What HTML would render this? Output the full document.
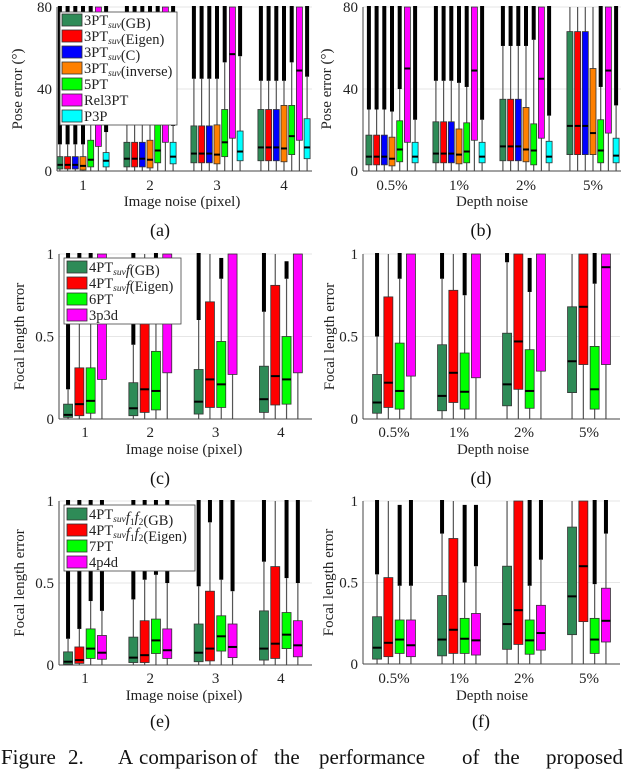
<!DOCTYPE html>
<html><head><meta charset="utf-8"><style>
html,body{margin:0;padding:0;background:#fff;}
svg, svg text{font-family:"Liberation Serif","DejaVu Serif",serif;}
</style></head><body>
<svg id="fig" width="640" height="769" viewBox="0 0 640 769" xmlns="http://www.w3.org/2000/svg" font-family="Liberation Serif, serif">
<g id="layer-grid"></g>
<g id="layer-data"></g>
<g id="layer-axes"></g>
<g id="layer-legend"></g>
<g font-size="21" fill="#111" font-family="Liberation Serif, serif">
<text x="1" y="764">Figure</text><text x="68" y="764">2.</text><text x="118" y="764">A</text><text x="139" y="764">comparison</text><text x="240" y="764">of</text><text x="274" y="764">the</text><text x="319" y="764">performance</text><text x="462" y="764">of</text><text x="494" y="764">the</text><text x="546" y="764">proposed</text>
</g>
</svg>
<script>
// ---------- Panel (a) data: pose error vs image noise ----------
const aCategories = ["1","2","3","4"];
const aSeries = ["GB","Eigen","C","inverse","5PT","Rel3PT","P3P"];
const aYTicks = [0,40,80];
const aQ1 = [[1,2,4,5],[1,2,4,5],[1,2,4,5],[0.5,1.5,3.5,4.5],[2,4,7,8],[12,14,16,15],[2,3.5,5,6]];
const aMed = [[3,6,8.5,11.5],[3,6,8.5,11.5],[3,6,8.5,11.5],[2.5,5.5,8,11],[5.5,10,14,17],[90,90,57,49],[5,7,9.5,11.5]];
const aQ3 = [[7,14,22,30],[7,14,22,30],[7,14,22,30],[7,15,22.5,32],[15,23,30,32],[95,95,95,95],[9,14,19.5,25.5]];
const aHi = [[13,27,45,44],[13,27,45,44],[13,27,45,44],[13,27,45,44],[30,40,53,53],[80,80,80,80],[19,22,56,46]];
const aOut = [[80,80,80,80],[80,80,80,80],[80,80,80,80],[80,80,80,80],[80,80,80,80],[80,80,80,80],[80,80,80,80]];

// ---------- Panel (b) data: pose error vs depth noise ----------
const bCategories = ["0.5%","1%","2%","5%"];
const bYTicks = [0,40,80];
const bQ1 = [[3,4,5,8],[3,4,5,8],[3,4,5,8],[2.5,3.5,4.5,8],[4.5,4,3,4],[14,15,16,18.5],[4,4,4,4]];
const bMed = [[7,8.5,12,22],[7,8.5,12,22],[7,8.5,12,22],[6,8,10.5,18.5],[10.5,9.5,10,10],[50,49,45,49],[7,7,7,7.5]];
const bQ3 = [[17.5,24,35,68],[17.5,24,35,68],[17.5,24,35,68],[16.5,20.5,31,50],[24.5,23.5,23,25],[95,95,95,95],[14,14,14.5,16]];
const bHi = [[30,44,61,80],[30,44,61,80],[30,44,61,80],[29,43,61,80],[40,41,64,41],[80,80,80,80],[25,25,27,32]];
const bOut = [[80,80,80,80],[80,80,80,80],[80,80,80,80],[80,80,80,80],[80,80,80,80],[80,80,80,80],[80,80,80,80]];

// ---------- Panel (c) data ----------
const cCategories = ["1","2","3","4"];
const cYTicks = [0,0.5,1];
const cQ1 = [[0.01,0.02,0.03,0.04],[0.02,0.04,0.07,0.085],[0.035,0.055,0.07,0.09],[0.24,0.28,0.27,0.28]];
const cMed = [[0.025,0.065,0.105,0.12],[0.09,0.18,0.24,0.26],[0.11,0.17,0.21,0.24],[1,1,1,1]];
const cQ3 = [[0.09,0.22,0.3,0.32],[0.31,0.65,0.71,0.81],[0.31,0.41,0.47,0.5],[1,1,1,1]];
const cHi = [[0.18,0.45,0.6,0.65],[0.62,1,1,1],[0.6,0.7,0.85,0.85],[1,1,1,1]];
const cOut = [[1,1,1,1],[1,1,1,1],[1,1,0.97,0.95],[1,1,1,1]];

// ---------- Panel (d) data ----------
const dCategories = ["0.5%","1%","2%","5%"];
const dYTicks = [0,0.5,1];
const dQ1 = [[0.035,0.05,0.08,0.16],[0.07,0.1,0.18,0.33],[0.06,0.06,0.065,0.06],[0.26,0.25,0.29,0.33]];
const dMed = [[0.1,0.14,0.21,0.35],[0.22,0.28,0.47,0.68],[0.17,0.165,0.17,0.18],[1,1,1,0.92]];
const dQ3 = [[0.27,0.45,0.52,0.68],[0.74,0.78,1,1],[0.46,0.4,0.42,0.44],[1,1,1,1]];
const dHi = [[0.5,0.85,0.95,1],[1,1,1,1],[0.85,0.75,0.77,0.82],[1,1,1,1]];
const dOut = [[1,1,1,1],[1,1,1,1],[1,1,0.97,1],[1,1,1,1]];

// ---------- Panel (e) data ----------
const eCategories = ["1","2","3","4"];
const eYTicks = [0,0.5,1];
const eQ1 = [[0.005,0.015,0.02,0.03],[0.01,0.015,0.025,0.04],[0.04,0.07,0.085,0.1],[0.035,0.04,0.045,0.05]];
const eMed = [[0.02,0.045,0.075,0.1],[0.03,0.06,0.1,0.13],[0.1,0.15,0.175,0.185],[0.075,0.09,0.11,0.12]];
const eQ3 = [[0.08,0.17,0.25,0.33],[0.11,0.27,0.45,0.6],[0.22,0.28,0.3,0.32],[0.18,0.22,0.25,0.27]];
const eHi = [[0.16,0.4,0.48,0.63],[0.22,0.52,0.87,1],[0.39,0.55,0.52,0.53],[0.33,0.5,0.45,0.5]];
const eOut = [[1,1,1,1],[1,1,1,1],[1,1,1,1],[1,1,1,1]];

// ---------- Panel (f) data ----------
const fCategories = ["0.5%","1%","2%","5%"];
const fYTicks = [0,0.5,1];
const fQ1 = [[0.03,0.05,0.09,0.18],[0.045,0.065,0.12,0.26],[0.065,0.065,0.06,0.065],[0.045,0.055,0.085,0.135]];
const fMed = [[0.1,0.15,0.245,0.415],[0.13,0.21,0.33,0.6],[0.15,0.155,0.145,0.15],[0.115,0.145,0.19,0.265]];
const fQ3 = [[0.29,0.42,0.6,0.84],[0.53,0.77,1,1],[0.27,0.28,0.27,0.28],[0.27,0.31,0.36,0.465]];
const fHi = [[0.55,0.8,1,1],[1,1,1,1],[0.48,0.5,0.48,0.49],[0.48,0.6,0.64,0.8]];
const fOut = [[1,1,1,1],[1,1,1,1],[0.97,0.97,1,1],[1,0.97,1,1]];

const NS = "http://www.w3.org/2000/svg";
const SERIF = "Liberation Serif, serif";
const colors7 = ["#2e8b57","#ff0000","#0000ff","#ff8000","#00ff00","#ff00ff","#00ffff"];
const colors4 = ["#2e8b57","#ff0000","#00ff00","#ff00ff"];
const gGrid = document.getElementById("layer-grid");
const gData = document.getElementById("layer-data");
const gAxes = document.getElementById("layer-axes");
const gLeg = document.getElementById("layer-legend");

function mk(tag, attrs, parent){
  const el = document.createElementNS(NS, tag);
  for (const k in attrs) el.setAttribute(k, attrs[k]);
  if (tag === "text") el.setAttribute("font-family", SERIF);
  parent.appendChild(el);
  return el;
}

const panels = [
  {id:"a", cats:aCategories, ticks:aYTicks, q1:aQ1, med:aMed, q3:aQ3, hi:aHi, out:aOut, colors:colors7,
   left:57, right:312, y0:171, yTop:7, yMax:80, gx0:83, gdx:67, step:7.7, bw:6,
   ylab:"Pose error (°)", ylabX:22, xlab:"Image noise (pixel)", xlabX:182, tickY:190, xlabY:206, tag:"(a)", tagX:160, tagY:236},
  {id:"b", cats:bCategories, ticks:bYTicks, q1:bQ1, med:bMed, q3:bQ3, hi:bHi, out:bOut, colors:colors7,
   left:363, right:621, y0:171, yTop:7, yMax:80, gx0:392, gdx:67, step:7.7, bw:6,
   ylab:"Pose error (°)", ylabX:331, xlab:"Depth noise", xlabX:492, tickY:190, xlabY:206, tag:"(b)", tagX:481, tagY:236},
  {id:"c", cats:cCategories, ticks:cYTicks, q1:cQ1, med:cMed, q3:cQ3, hi:cHi, out:cOut, colors:colors4,
   left:59, right:312, y0:419, yTop:254, yMax:1, gx0:85, gdx:65.3, step:11.3, bw:9,
   ylab:"Focal length error", ylabX:24, xlab:"Image noise (pixel)", xlabX:184, tickY:437, xlabY:454, tag:"(c)", tagX:160, tagY:484},
  {id:"d", cats:dCategories, ticks:dYTicks, q1:dQ1, med:dMed, q3:dQ3, hi:dHi, out:dOut, colors:colors4,
   left:363, right:620, y0:419, yTop:254, yMax:1, gx0:394, gdx:65, step:11.3, bw:9,
   ylab:"Focal length error", ylabX:334, xlab:"Depth noise", xlabX:493, tickY:437, xlabY:454, tag:"(d)", tagX:481, tagY:484},
  {id:"e", cats:eCategories, ticks:eYTicks, q1:eQ1, med:eMed, q3:eQ3, hi:eHi, out:eOut, colors:colors4,
   left:59, right:312, y0:665, yTop:501, yMax:1, gx0:85, gdx:65.3, step:11.3, bw:9,
   ylab:"Focal length error", ylabX:24, xlab:"Image noise (pixel)", xlabX:184, tickY:683, xlabY:700, tag:"(e)", tagX:160, tagY:727},
  {id:"f", cats:fCategories, ticks:fYTicks, q1:fQ1, med:fMed, q3:fQ3, hi:fHi, out:fOut, colors:colors4,
   left:363, right:620, y0:664, yTop:501, yMax:1, gx0:394, gdx:65, step:11.3, bw:9,
   ylab:"Focal length error", ylabX:333, xlab:"Depth noise", xlabX:492, tickY:683, xlabY:700, tag:"(f)", tagX:481, tagY:727}
];

panels.forEach(p => {
  const yS = v => p.y0 - (Math.max(0, Math.min(v, p.yMax)) / p.yMax) * (p.y0 - p.yTop);
  const nS = p.q1.length;
  const xS = (gi, si) => p.gx0 + gi * p.gdx + (si - (nS - 1) / 2) * p.step;

  p.ticks.forEach(t => {
    if (t === 0) return;
    const gl = mk("line", {x1:p.left, x2:p.right, y1:yS(t), y2:yS(t), stroke:"#e6e6e6", "stroke-width":1}, gGrid);
    
    
  });

  const pg = mk("g", {}, gData);
  
  

  for (let si = 0; si < nS; si++) {
    for (let gi = 0; gi < p.cats.length; gi++) {
      const x = xS(gi, si);
      const q1 = p.q1[si][gi], md = p.med[si][gi], q3 = p.q3[si][gi], hi = p.hi[si][gi], ot = p.out[si][gi];
      const bg = mk("g", {}, pg);
      
      
      if (ot > hi) {
        const o = mk("rect", {x:x-2, y:yS(ot)-1, width:4, height:Math.max(0, yS(hi)-yS(ot)+1), fill:"#000"}, bg);
        
        
      }
      const w1 = mk("line", {x1:x, x2:x, y1:yS(0), y2:yS(q1), stroke:"#555", "stroke-width":1.2}, bg);
      
      
      const w2 = mk("line", {x1:x, x2:x, y1:yS(q3), y2:yS(hi), stroke:"#555", "stroke-width":1.2}, bg);
      
      
      const r = mk("rect", {x:x-p.bw/2, y:yS(q3), width:p.bw, height:Math.max(0.5, yS(q1)-yS(q3)), fill:p.colors[si], stroke:"#333", "stroke-width":0.8}, bg);
      
      
      if (md < p.yMax) {
        const m = mk("line", {x1:x-p.bw/2, x2:x+p.bw/2, y1:yS(md), y2:yS(md), stroke:"#000", "stroke-width":2}, bg);
        
        
      }
    }
  }

  const ax = mk("g", {}, gAxes);
  
  
  const la = mk("line", {x1:p.left, x2:p.left, y1:p.yTop, y2:p.y0, stroke:"#444", "stroke-width":1}, ax);
  
  
  const ba = mk("line", {x1:p.left, x2:p.right, y1:p.y0, y2:p.y0, stroke:"#444", "stroke-width":1}, ax);
  
  
  p.ticks.forEach(t => {
    const tl = mk("text", {x:p.left-5, y:yS(t)+5, "font-size":15, "text-anchor":"end", fill:"#222"}, ax);
    tl.textContent = String(t);
    
    
  });
  p.cats.forEach((c, gi) => {
    const gx = p.gx0 + gi * p.gdx;
    const tl = mk("text", {x:gx, y:p.tickY, "font-size":15, "text-anchor":"middle", fill:"#222"}, ax);
    tl.textContent = c;
    
    
  });
  const yl = mk("text", {x:0, y:0, "font-size":15, "text-anchor":"middle", fill:"#222",
    transform:"translate(" + p.ylabX + "," + ((p.y0 + p.yTop) / 2) + ") rotate(-90)"}, ax);
  yl.textContent = p.ylab;
  
  
  const xl = mk("text", {x:p.xlabX, y:p.xlabY, "font-size":15, "text-anchor":"middle", fill:"#222"}, ax);
  xl.textContent = p.xlab;
  
  
  const tg = mk("text", {x:p.tagX, y:p.tagY, "font-size":18, "text-anchor":"middle", fill:"#111"}, ax);
  tg.textContent = p.tag;
  
  
});

function legend(name, x, y, w, h, rowY, swX, entries, colors){
  const g = mk("g", {}, gLeg);
  
  
  const bx = mk("rect", {x:x, y:y, width:w, height:h, fill:"#fff", stroke:"#444", "stroke-width":0.8}, g);
  
  
  entries.forEach((e, i) => {
    const cy = rowY[i];
    const sw = mk("rect", {x:swX, y:cy-6, width:20, height:12, fill:colors[i], stroke:"#333", "stroke-width":0.8}, g);
    
    
    const t = mk("text", {x:swX+22, y:cy+5, "font-size":14.5, fill:"#222"}, g);
    t.innerHTML = e;
    
    
  });
}
const SUB = '<tspan font-size="9.5" font-style="italic" dy="3">suv</tspan><tspan dy="-3"></tspan>';
const F = '<tspan font-style="italic">f</tspan>';
const F12 = '<tspan font-style="italic">f</tspan><tspan font-size="9.5" dy="3">1</tspan><tspan font-style="italic" dy="-3">f</tspan><tspan font-size="9.5" dy="3">2</tspan><tspan dy="-3"></tspan>';
legend("legend-a", 60, 12, 117, 113, [20,36,52,68,84,100,116], 62,
  ["3PT"+SUB+"(GB)","3PT"+SUB+"(Eigen)","3PT"+SUB+"(C)","3PT"+SUB+"(inverse)","5PT","Rel3PT","P3P"], colors7);
legend("legend-c", 64, 258, 117, 66, [267,283,299,315], 67,
  ["4PT"+SUB+F+"(GB)","4PT"+SUB+F+"(Eigen)","6PT","3p3d"], colors4);
legend("legend-e", 64, 505, 131, 66, [514,530,546,562], 67,
  ["4PT"+SUB+F12+"(GB)","4PT"+SUB+F12+"(Eigen)","7PT","4p4d"], colors4);
</script>
</body></html>
